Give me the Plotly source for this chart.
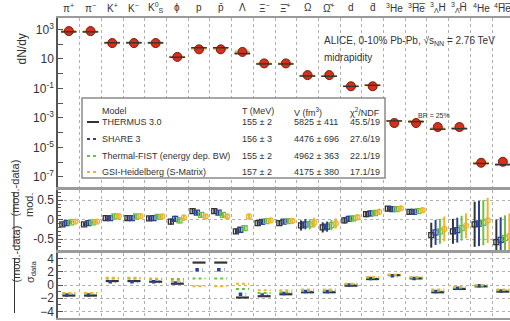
import plotly.graph_objects as go

# ---------------- data ----------------
particles = ["π<sup>+</sup>", "π<sup>−</sup>", "K<sup>+</sup>", "K<sup>−</sup>", "K<sup>0</sup><sub>S</sub>",
             "ϕ", "p", "p̄", "Λ", "Ξ<sup>−</sup>", "Ξ̄<sup>+</sup>", "Ω", "Ω̄<sup>+</sup>", "d", "d̄",
             "<sup>3</sup>He", "<sup>3</sup>H̅e̅", "<sup>3</sup><sub>Λ</sub>H", "<sup>3</sup><sub>Λ̄</sub>H̄",
             "<sup>4</sup>He", "<sup>4</sup>H̅e̅"]

data_yield = [780, 775, 120, 120, 120, 13.8, 45, 45, 30, 5.0, 5.0, 0.8, 0.8, 0.14, 0.14,
              4.5e-4, 4.5e-4, 2.4e-4, 2.4e-4, 9.0e-7, 1.05e-6]

models = ["THERMUS 3.0", "SHARE 3", "Thermal-FIST (energy dep. BW)", "GSI-Heidelberg (S-Matrix)"]
T_vals = ["155 ± 2", "156 ± 3", "155 ± 2", "157 ± 2"]
V_vals = ["5825 ± 411", "4476 ± 696", "4962 ± 363", "4175 ± 380"]
chi_vals = ["45.5/19", "27.6/19", "22.1/19", "17.1/19"]

# (mod - data) / mod
dev_thermus = [-0.12, -0.12, 0.04, 0.04, 0.03, -0.05, 0.22, 0.22, -0.30, -0.09, -0.09, -0.15, -0.20,
               -0.02, 0.14, 0.28, 0.20, -0.40, -0.30, -0.12, -0.58]
dev_share = [-0.09, -0.09, 0.04, 0.04, 0.04, 0.02, 0.18, 0.18, -0.26, -0.06, -0.05, -0.12, -0.18,
             0.02, 0.16, 0.27, 0.20, -0.33, -0.27, -0.10, -0.52]
dev_fist = [-0.07, -0.07, 0.08, 0.08, 0.07, -0.02, 0.12, 0.12, -0.22, -0.04, -0.04, -0.12, -0.14,
            0.03, 0.17, 0.27, 0.22, -0.30, -0.22, -0.08, -0.47]
dev_gsi = [-0.05, -0.05, 0.09, 0.09, 0.08, 0.05, 0.08, 0.08, 0.08, -0.02, -0.03, -0.08, -0.10,
           0.06, 0.20, 0.29, 0.24, -0.24, -0.16, -0.02, -0.42]
dev_err = [0.05, 0.05, 0.06, 0.06, 0.06, 0.08, 0.06, 0.06, 0.07, 0.06, 0.06, 0.13, 0.13,
           0.08, 0.08, 0.07, 0.07, 0.32, 0.32, 0.58, 0.58]

# (mod - data) / sigma_data
pull_thermus = [-1.6, -1.6, 0.6, 0.6, 0.5, 0.2, 3.4, 3.4, -1.9, -1.7, -1.4, -1.1, -1.1,
                -0.1, 0.9, 1.5, 1.0, -1.1, -0.6, -0.2, -1.0]
pull_share = [-1.5, -1.5, 0.5, 0.5, 0.5, 0.3, 2.3, 2.3, -1.4, -1.5, -1.3, -1.0, -1.0,
              0.0, 1.0, 1.4, 1.0, -1.0, -0.5, -0.1, -0.9]
pull_fist = [-1.3, -1.3, 1.0, 1.0, 0.9, 0.9, 1.0, 1.0, -0.6, -1.2, -1.1, -0.9, -0.9,
             0.1, 1.1, 1.5, 1.1, -0.9, -0.4, -0.1, -0.8]
pull_gsi = [-1.2, -1.2, 1.1, 1.1, 1.0, 0.6, -0.2, -0.2, 0.2, -0.8, -0.8, -0.7, -0.7,
            0.2, 1.2, 1.6, 1.2, -0.7, -0.3, 0.0, -0.7]

devs = [dev_thermus, dev_share, dev_fist, dev_gsi]
pulls = [pull_thermus, pull_share, pull_fist, pull_gsi]

# ---------------- style ----------------
colors = ["#333333", "#2b3f9e", "#6cc04a", "#f0b428"]
dashes = ["solid", "dot", "dot", "dot"]
symbols = ["square-open", "square-open", "square-open", "circle-open"]
offsets = [-0.3, -0.1, 0.1, 0.3]
FONT = "Liberation Sans, Arial, sans-serif"
TXT = "#333333"

W, H = 510, 321
ML, MR, MT, MB = 58, 0, 18, 3
PW, PH = W - ML - MR, H - MT - MB
COLW = 21.7
xmax = -0.5 + PW / COLW


def px(xp):
    return (xp - ML) / PW


def py(yp):
    return (H - MB - yp) / PH


def segs(centers, vals, half):
    xs, ys = [], []
    for c, v in zip(centers, vals):
        xs += [c - half, c + half, None]
        ys += [v, v, None]
    return xs, ys


idx = list(range(len(particles)))
fig = go.Figure()

# top panel: models (behind) + data
for m in range(1, 4):
    mod_vals = [d / (1 - dv) for d, dv in zip(data_yield, devs[m])]
    xs, ys = segs(idx, mod_vals, 0.36)
    fig.add_trace(go.Scatter(x=xs, y=ys, mode="lines", xaxis="x", yaxis="y",
                             line=dict(color=colors[m], width=1.6, dash=dashes[m]),
                             showlegend=False, hoverinfo="skip"))
fig.add_trace(go.Scatter(x=idx, y=data_yield, mode="markers", xaxis="x", yaxis="y",
                         marker=dict(color="#d6301c", size=9, line=dict(color="#7a1a05", width=1)),
                         showlegend=False))
mod_th = [d / (1 - dv) for d, dv in zip(data_yield, dev_thermus)]
xs, ys = segs(idx, mod_th, 0.36)
fig.add_trace(go.Scatter(x=xs, y=ys, mode="lines", xaxis="x", yaxis="y",
                         line=dict(color=colors[0], width=1.4), showlegend=False, hoverinfo="skip"))

# middle panel
for m in range(4):
    fig.add_trace(go.Scatter(x=[i + offsets[m] for i in idx], y=devs[m], mode="markers",
                             xaxis="x2", yaxis="y2",
                             marker=dict(symbol=symbols[m], size=5, color=colors[m],
                                         line=dict(color=colors[m], width=1.3)),
                             error_y=dict(type="data", array=dev_err, color=colors[m],
                                          thickness=2, width=0),
                             showlegend=False))

# bottom panel
halfs = [0.3, 0.17, 0.3, 0.3]
widths = [2.2, 3.5, 2, 2]
for m in range(4):
    xs, ys = segs(idx, pulls[m], halfs[m])
    fig.add_trace(go.Scatter(x=xs, y=ys, mode="lines", xaxis="x3", yaxis="y3",
                             line=dict(color=colors[m], width=widths[m], dash=dashes[m]),
                             showlegend=False, hoverinfo="skip"))

# ---------------- axes ----------------
xcommon = dict(range=[-0.5, xmax], tickvals=[i + 0.5 for i in idx], showticklabels=False,
               showgrid=True, griddash="dot", gridcolor="#b0b0b0", gridwidth=1, ticks="",
               zeroline=False, showline=True, mirror=True, linecolor="#9a9a9a", linewidth=2,
               automargin=False)
ycommon = dict(showline=True, linecolor="#555555", linewidth=1.5, ticks="inside", ticklen=5,
               tickcolor="#555", zeroline=False, automargin=False,
               tickfont=dict(size=12, color=TXT, family=FONT))

top_ticks = [10.0 ** e for e in range(-7, 4)]
top_text = [("10" if e == 1 else ("10<sup>%d</sup>" % e)) if e % 2 else "" for e in range(-7, 4)]

fig.update_layout(
    width=W, height=H, margin=dict(l=ML, r=MR, t=MT, b=MB, autoexpand=False),
    paper_bgcolor="white", plot_bgcolor="white", showlegend=False,
    font=dict(family=FONT, color=TXT),
    xaxis=dict(anchor="y", **xcommon),
    xaxis2=dict(anchor="y2", matches="x", **xcommon),
    xaxis3=dict(anchor="y3", matches="x", **xcommon),
    yaxis=dict(domain=[py(187), 1], type="log", range=[-7.69, 3.78], tickvals=top_ticks,
               ticktext=top_text, showgrid=False, **ycommon),
    yaxis2=dict(domain=[py(250), py(190)], range=[-0.78, 0.76], tickvals=[-0.5, 0, 0.5],
                ticktext=["-0.5", "0", "0.5"], showgrid=True, griddash="dot", gridcolor="#b0b0b0",
                minor=dict(dtick=0.1, ticks="inside", ticklen=3, tickcolor="#555"), **ycommon),
    yaxis3=dict(domain=[0, py(253)], range=[-5.0, 4.85], tickvals=[-4, -2, 0, 2, 4],
                showgrid=True, griddash="dot", gridcolor="#b0b0b0",
                minor=dict(dtick=1, ticks="inside", ticklen=3, tickcolor="#555"), **ycommon),
)

ann = []
# column labels
for i, lab in enumerate(particles):
    ann.append(dict(x=i, y=py(8), xref="x", yref="paper", text=lab, showarrow=False,
                    font=dict(size=10, color=TXT), xanchor="center", yanchor="middle"))

# axis titles
ann.append(dict(x=px(13), y=py(32), xref="paper", yref="paper", text="dN/dy", textangle=-90,
                showarrow=False, font=dict(size=12, color=TXT)))
ann.append(dict(x=px(7), y=py(219), xref="paper", yref="paper", text="(mod.-data)", textangle=-90,
                showarrow=False, font=dict(size=11, color=TXT)))
ann.append(dict(x=px(21), y=py(219), xref="paper", yref="paper", text="mod.", textangle=-90,
                showarrow=False, font=dict(size=11, color=TXT)))
ann.append(dict(x=px(7), y=py(285), xref="paper", yref="paper", text="(mod.-data)", textangle=-90,
                showarrow=False, font=dict(size=11, color=TXT)))
ann.append(dict(x=px(22), y=py(285), xref="paper", yref="paper", text="σ<sub>data</sub>",
                textangle=-90, showarrow=False, font=dict(size=11, color=TXT)))

# header text
ann.append(dict(x=px(322), y=py(33), xref="paper", yref="paper", xanchor="left",
                text="ALICE, 0-10% Pb-Pb, √s<sub>NN</sub> = 2.76 TeV", showarrow=False,
                font=dict(size=10, color=TXT)))
ann.append(dict(x=px(322), y=py(50), xref="paper", yref="paper", xanchor="left",
                text="midrapidity", showarrow=False, font=dict(size=10, color=TXT)))
ann.append(dict(x=px(452), y=py(110), xref="paper", yref="paper", text="BR = 25%",
                showarrow=False, font=dict(size=7, color=TXT)))

shapes = []
# fraction bars for titles
shapes.append(dict(type="line", xref="paper", yref="paper", x0=px(14), x1=px(14),
                   y0=py(192), y1=py(247), line=dict(color=TXT, width=1)))
shapes.append(dict(type="line", xref="paper", yref="paper", x0=px(14.5), x1=px(14.5),
                   y0=py(258), y1=py(313), line=dict(color=TXT, width=1)))

# legend table
shapes.append(dict(type="rect", xref="paper", yref="paper", x0=px(82), x1=px(385),
                   y0=py(178), y1=py(98), fillcolor="white", line=dict(color="#8a8a8a", width=1.5),
                   layer="above"))
hdr_y = 104
FS = 9
ann.append(dict(x=px(100), y=py(hdr_y), xref="paper", yref="paper", xanchor="left", text="Model",
                showarrow=False, font=dict(size=FS, color=TXT)))
ann.append(dict(x=px(240), y=py(hdr_y), xref="paper", yref="paper", xanchor="left", text="T (MeV)",
                showarrow=False, font=dict(size=FS, color=TXT)))
ann.append(dict(x=px(292), y=py(hdr_y), xref="paper", yref="paper", xanchor="left",
                text="V (fm<sup>3</sup>)", showarrow=False, font=dict(size=FS, color=TXT)))
ann.append(dict(x=px(382), y=py(hdr_y), xref="paper", yref="paper", xanchor="right",
                text="χ<sup>2</sup>/NDF", showarrow=False, font=dict(size=FS, color=TXT)))
row_y = [122, 139, 156, 172]
for m in range(4):
    yy = py(row_y[m])
    shapes.append(dict(type="line", xref="paper", yref="paper", x0=px(87), x1=px(99), y0=yy, y1=yy,
                       line=dict(color=colors[m], width=2, dash=dashes[m]), layer="above"))
    ann.append(dict(x=px(100), y=yy, xref="paper", yref="paper", xanchor="left", text=models[m],
                    showarrow=False, font=dict(size=FS, color=TXT)))
    ann.append(dict(x=px(240), y=yy, xref="paper", yref="paper", xanchor="left", text=T_vals[m],
                    showarrow=False, font=dict(size=FS, color=TXT)))
    ann.append(dict(x=px(292), y=yy, xref="paper", yref="paper", xanchor="left", text=V_vals[m],
                    showarrow=False, font=dict(size=FS, color=TXT)))
    ann.append(dict(x=px(382), y=yy, xref="paper", yref="paper", xanchor="right", text=chi_vals[m],
                    showarrow=False, font=dict(size=FS, color=TXT)))

fig.update_layout(annotations=ann, shapes=shapes)
fig.write_html("out.html", config={"displayModeBar": False},
               post_script="document.body.style.margin='0';document.body.style.overflow='hidden';")
